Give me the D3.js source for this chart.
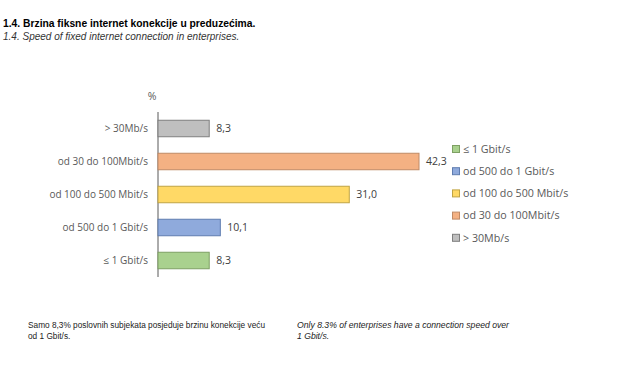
<!DOCTYPE html>
<html><head><meta charset="utf-8">
<script src="https://cdn.jsdelivr.net/npm/d3@7"></script>
<style>body{margin:0;background:#fff}svg{display:block}</style>
</head><body>
<script>
const categories = ["> 30Mb/s","od 30 do 100Mbit/s","od 100 do 500 Mbit/s","od 500 do 1 Gbit/s","≤ 1 Gbit/s"];
const values = [8.3, 42.3, 31.0, 10.1, 8.3];
const colors = ["#bfbfbf","#f4b183","#ffd966","#8faadc","#a9d18e"];
const strokes = ["#7f7f7f","#c08a66","#c0a444","#5f7db0","#7ea063"];
const legendOrder = ["≤ 1 Gbit/s","od 500 do 1 Gbit/s","od 100 do 500 Mbit/s","od 30 do 100Mbit/s","> 30Mb/s"];

const W=632,H=368;
const svg=d3.select("body").append("svg").attr("width",W).attr("height",H);
const F="'Open Sans', Lato, sans-serif";
const A="'Liberation Sans', Arial, sans-serif";

svg.append("text").attr("x",3).attr("y",27).attr("font-family",A).attr("font-weight","bold").attr("font-size",10.3).attr("fill","#000").text("1.4. Brzina fiksne internet konekcije u preduzećima.");
svg.append("text").attr("x",3).attr("y",40).attr("font-family",A).attr("font-style","italic").attr("font-size",10).attr("fill","#333").text("1.4. Speed of fixed internet connection in enterprises.");

const x=d3.scaleLinear().domain([0,42.3]).range([158,419]);
const y=d3.scaleBand().domain(categories).range([112,277]).paddingInner(0.5).paddingOuter(0.25);

svg.append("line").attr("x1",158).attr("x2",158).attr("y1",112).attr("y2",277).attr("stroke","#595959").attr("stroke-width",1);
svg.append("text").attr("x",152).attr("y",100).attr("text-anchor","middle").attr("font-family",F).attr("font-size",10.5).attr("fill","#595959").text("%");

const g=svg.append("g");
g.selectAll("rect").data(categories).join("rect")
 .attr("x",x(0)).attr("y",d=>y(d)).attr("width",(d,i)=>x(values[i])-x(0)).attr("height",y.bandwidth())
 .attr("fill",(d,i)=>colors[i]).attr("stroke",(d,i)=>strokes[i]).attr("stroke-width",1);
g.selectAll("text.v").data(categories).join("text").attr("class","v")
 .attr("x",(d,i)=>x(values[i])+7).attr("y",d=>y(d)+y.bandwidth()/2).attr("dy","0.35em")
 .attr("font-family",F).attr("font-size",10.5).attr("fill","#404040")
 .text((d,i)=>d3.format(".1f")(values[i]).replace(".",","));
g.selectAll("text.c").data(categories).join("text").attr("class","c")
 .attr("x",148).attr("y",d=>y(d)+y.bandwidth()/2).attr("dy","0.35em").attr("text-anchor","end")
 .attr("font-family",F).attr("font-size",10).attr("fill","#595959").text(d=>d);

const lg=svg.append("g");
legendOrder.forEach((d,i)=>{
  const ci=categories.indexOf(d);
  const yy=149+i*22.2;
  lg.append("rect").attr("x",452.5).attr("y",yy-3.5).attr("width",7).attr("height",7).attr("fill",colors[ci]).attr("stroke",strokes[ci]);
  lg.append("text").attr("x",463).attr("y",yy).attr("dy","0.35em").attr("font-family",F).attr("font-size",10.7).attr("fill","#595959").text(d);
});

const fn1=svg.append("g").attr("transform","translate(28,0) scale(0.9,1)").attr("font-family",A).attr("font-size",9.2).attr("fill","#222");
fn1.append("text").attr("x",0).attr("y",328).text("Samo 8,3% poslovnih subjekata posjeduje brzinu konekcije veću");
fn1.append("text").attr("x",0).attr("y",339).text("od 1 Gbit/s.");
const fn2=svg.append("g").attr("transform","translate(297,0) scale(0.94,1)").attr("font-family",A).attr("font-size",9.2).attr("font-style","italic").attr("fill","#222");
fn2.append("text").attr("x",0).attr("y",328).text("Only 8.3% of enterprises have a connection speed over");
fn2.append("text").attr("x",0).attr("y",339).text("1 Gbit/s.");
</script>
</body></html>
